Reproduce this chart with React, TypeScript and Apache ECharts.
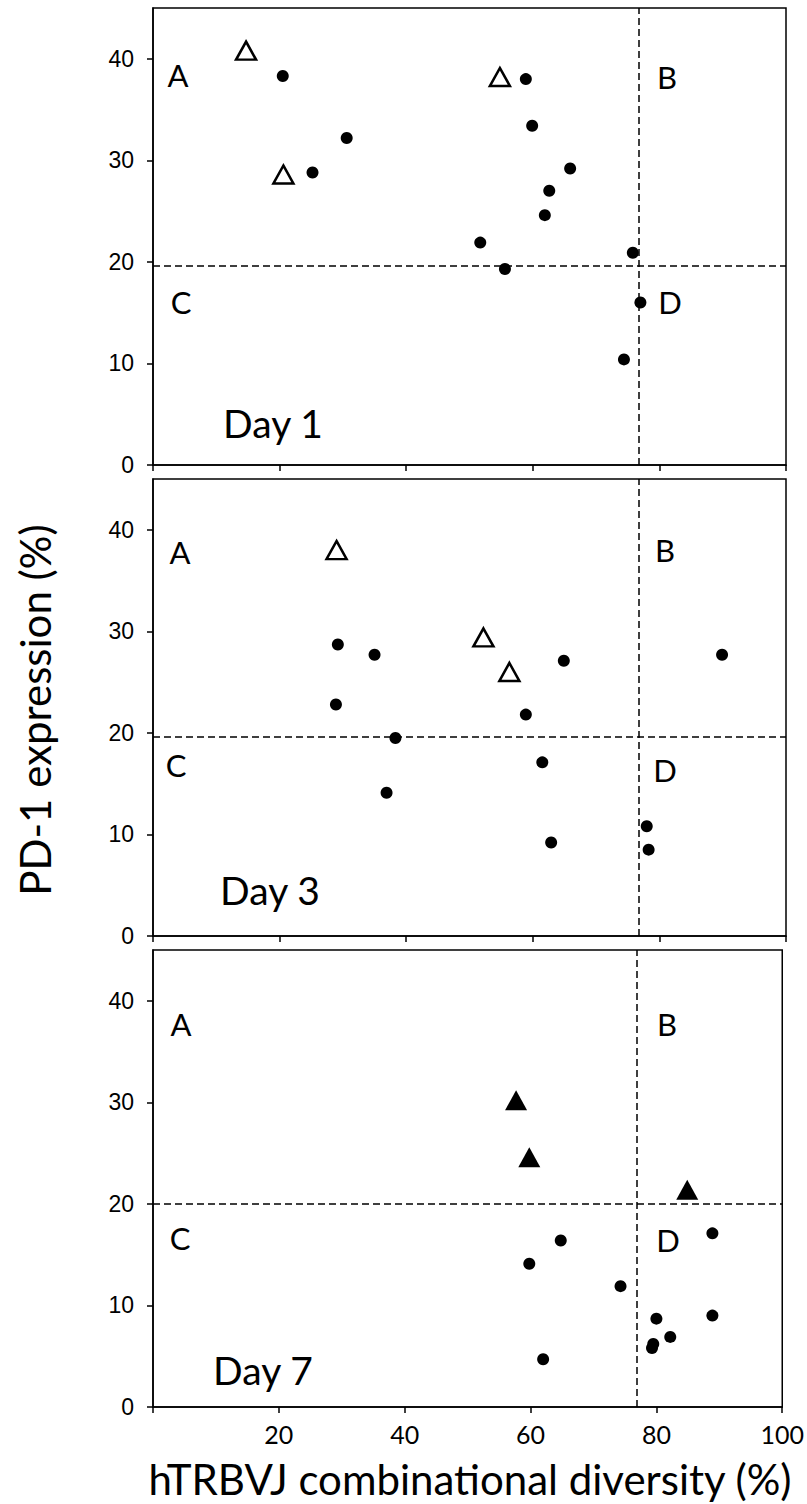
import React, { useEffect, useRef } from "react";
import * as echarts from "echarts";

const dayLabels = ["Day 1", "Day 3", "Day 7"];
const quadrantLabels = ["A", "B", "C", "D"];
const xTickValues = [0, 20, 40, 60, 80, 100];
const xLabelValues = [20, 40, 60, 80, 100];
const yTickValues = [0, 10, 20, 30, 40];

const day1Dots = [
  [20.5, 38.3], [30.6, 32.2], [25.2, 28.8], [58.9, 38.0], [59.9, 33.4],
  [65.9, 29.2], [62.6, 27.0], [61.9, 24.6], [51.7, 21.9], [75.8, 20.9],
  [55.6, 19.3], [77.0, 16.0], [74.4, 10.4],
];
const day1Triangles = [[14.7, 40.8], [20.6, 28.6], [54.8, 38.2]];

const day3Dots = [
  [29.2, 28.7], [35.0, 27.7], [28.9, 22.8], [38.3, 19.5], [36.9, 14.1],
  [58.9, 21.8], [61.5, 17.1], [62.9, 9.2], [64.9, 27.1], [89.9, 27.7],
  [78.0, 10.8], [78.3, 8.5],
];
const day3Triangles = [[29.0, 38.0], [52.2, 29.4], [56.3, 26.0]];

const day7Dots = [
  [64.8, 16.4], [59.8, 14.1], [74.3, 11.9], [88.9, 17.1], [80.0, 8.7],
  [88.9, 9.0], [82.2, 6.9], [79.5, 6.2], [79.3, 5.8], [62.0, 4.7],
];
const day7Triangles = [[57.7, 30.2], [59.8, 24.6], [84.9, 21.4]];

const xCutoffs = [76.7, 76.7, 76.9];
const yCutoffs = [19.6, 19.6, 20.0];

const dotsByDay = [day1Dots, day3Dots, day7Dots];
const trianglesByDay = [day1Triangles, day3Triangles, day7Triangles];
const trianglesFilled = [false, false, true];

const xTitle = "hTRBVJ combinational diversity (%)";
const yTitle = "PD-1 expression (%)";

export default function App() {
  const ref = useRef<HTMLDivElement>(null);

  useEffect(() => {
    if (!ref.current) return;
    const chart = echarts.init(ref.current, null, { renderer: "svg" });

    const GRID_LEFT = 153;
    const GRID_W = 633;
    const GRID_H = 457;
    const GRID_TOP0 = 8;
    const GRID_STEP = 471;

    const grids: any[] = [];
    const xAxes: any[] = [];
    const yAxes: any[] = [];
    const series: any[] = [];
    const graphics: any[] = [];

    const letterFont = "Lato";
    const quadPos = [
      [[178, 75], [667, 77], [181, 302], [670, 302], [273, 423]],
      [[180, 552], [665, 550], [176, 765], [665, 770], [270, 890]],
      [[181, 1024], [667, 1024], [180, 1238], [668, 1240], [263, 1370]],
    ];

    for (let i = 0; i < 3; i++) {
      const top = GRID_TOP0 + GRID_STEP * i;
      grids.push({
        left: GRID_LEFT,
        top,
        width: GRID_W,
        height: GRID_H,
        show: true,
        borderColor: "#000",
        borderWidth: 1.5,
        backgroundColor: "transparent",
      });
      const isBottom = i === 2;
      xAxes.push({
        type: "value",
        gridIndex: i,
        min: 0,
        max: 100,
        interval: 20,
        axisLine: { show: true, onZero: false, lineStyle: { color: "#000", width: 1.5 } },
        axisTick: {
          show: true,
          length: 6,
          customValues: xTickValues,
          lineStyle: { color: "#000", width: 1.5 },
        },
        axisLabel: {
          show: isBottom,
          customValues: xLabelValues,
          fontFamily: "Lato",
          fontSize: 25,
          color: "#000",
          margin: 14,
        },
        splitLine: { show: false },
      });
      yAxes.push({
        type: "value",
        gridIndex: i,
        min: 0,
        max: 45,
        interval: 10,
        axisLine: { show: true, onZero: false, lineStyle: { color: "#000", width: 1.5 } },
        axisTick: {
          show: true,
          length: 6,
          customValues: yTickValues,
          lineStyle: { color: "#000", width: 1.5 },
        },
        axisLabel: {
          show: true,
          customValues: yTickValues,
          fontFamily: "Liberation Sans",
          fontSize: 23,
          color: "#000",
          margin: 19,
        },
        splitLine: { show: false },
      });

      series.push({
        type: "scatter",
        xAxisIndex: i,
        yAxisIndex: i,
        symbol: "circle",
        symbolSize: 12,
        itemStyle: { color: "#000", opacity: 1 },
        data: dotsByDay[i],
        markLine: {
          silent: true,
          symbol: ["none", "none"],
          label: { show: false },
          lineStyle: { type: [7, 4], color: "#000", width: 1.5 },
          data: [{ xAxis: xCutoffs[i] }, { yAxis: yCutoffs[i] }],
        },
        z: 3,
      });
      series.push({
        type: "scatter",
        xAxisIndex: i,
        yAxisIndex: i,
        symbol: "triangle",
        symbolSize: trianglesFilled[i] ? [22, 20] : [20, 18],
        itemStyle: trianglesFilled[i]
          ? { color: "#000", opacity: 1 }
          : { color: "#fff", borderColor: "#000", borderWidth: 2.5, opacity: 1 },
        data: trianglesByDay[i],
        z: 4,
      });

      quadrantLabels.forEach((q, k) => {
        graphics.push({
          type: "text",
          x: quadPos[i][k][0],
          y: quadPos[i][k][1],
          style: {
            text: q,
            fontFamily: letterFont,
            fontSize: 31,
            fill: "#000",
            align: "center",
            verticalAlign: "middle",
          },
          z: 10,
        });
      });
      graphics.push({
        type: "text",
        x: quadPos[i][4][0],
        y: quadPos[i][4][1],
        style: {
          text: dayLabels[i],
          fontFamily: letterFont,
          fontSize: 39,
          fill: "#000",
          align: "center",
          verticalAlign: "middle",
        },
        z: 10,
      });
    }

    graphics.push({
      type: "text",
      x: 470,
      y: 1479,
      style: {
        text: xTitle,
        fontFamily: "Lato",
        fontSize: 42,
        fill: "#000",
        align: "center",
        verticalAlign: "middle",
      },
    });
    graphics.push({
      type: "text",
      x: 35,
      y: 710,
      rotation: Math.PI / 2,
      style: {
        text: yTitle,
        fontFamily: "Lato",
        fontSize: 42,
        fill: "#000",
        align: "center",
        verticalAlign: "middle",
      },
    });

    chart.setOption({
      animation: false,
      backgroundColor: "#fff",
      grid: grids,
      xAxis: xAxes,
      yAxis: yAxes,
      series,
      graphic: graphics,
    });

    return () => chart.dispose();
  }, []);

  return (
    <div
      ref={ref}
      style={{ position: "fixed", left: 0, top: 0, width: 807, height: 1504 }}
    />
  );
}
